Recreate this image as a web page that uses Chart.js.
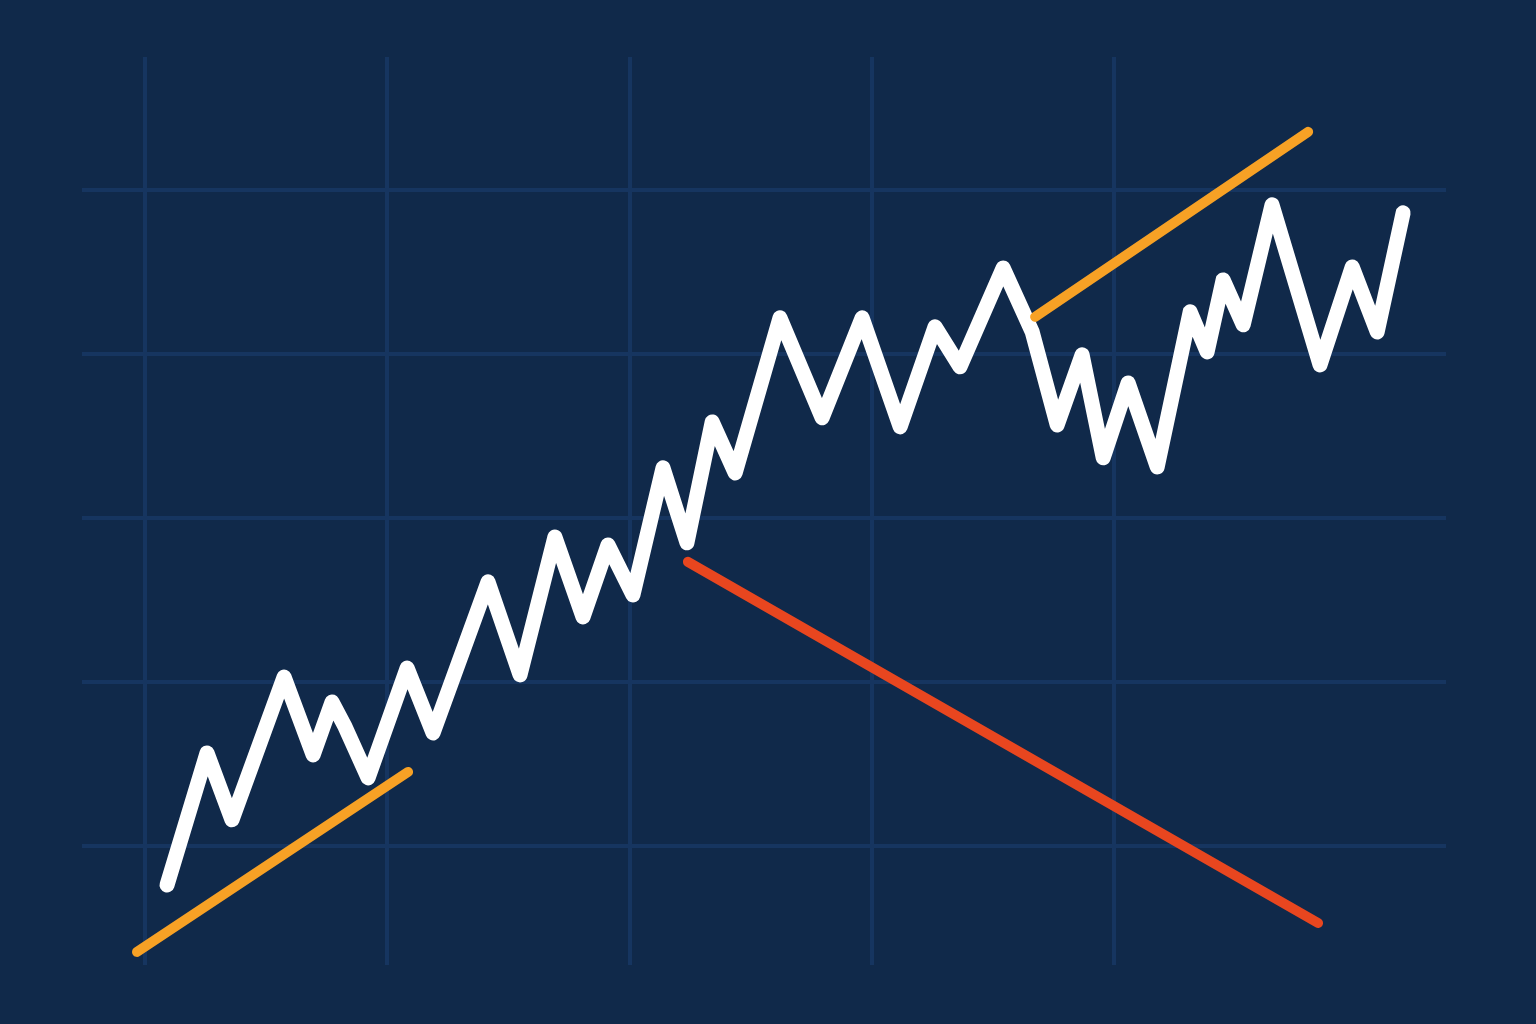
<!DOCTYPE html>
<html>
<head>
<meta charset="utf-8">
<script src="https://cdn.jsdelivr.net/npm/chart.js@4/dist/chart.umd.min.js"></script>
<style>
  html, body { margin: 0; padding: 0; background: #10294a; }
  #wrap { width: 1536px; height: 1024px; }
</style>
</head>
<body>
<div id="wrap"><canvas id="chart"></canvas></div>
<script>
// price path (x = time, y = price)
const priceX = [0.91, 2.56, 3.59, 5.74, 6.94, 7.72, 8.26, 9.21, 10.82, 11.89,
  14.16, 15.48, 16.92, 18.08, 19.11, 20.14, 21.38, 22.37, 23.41, 24.36,
  26.21, 27.95, 29.60, 31.17, 32.61, 33.64, 35.42, 36.62, 37.65, 38.68,
  39.55, 40.58, 41.78, 43.14, 43.84, 44.50, 45.33, 46.52, 48.50, 49.83,
  50.86, 51.93];
const priceY = [-2.38, 5.67, 1.59, 10.30, 5.55, 8.78, 7.26, 4.15, 10.85, 6.89,
  16.10, 10.43, 18.84, 13.96, 18.35, 15.30, 23.05, 18.48, 25.85, 22.74,
  32.20, 26.10, 32.20, 25.55, 31.65, 29.21, 35.24, 31.34, 25.67, 29.94,
  23.66, 28.23, 23.11, 32.56, 30.12, 34.51, 31.77, 39.09, 29.33, 35.30,
  31.34, 38.60];

// trend lines
const supportX = [-0.33, 10.86];
const supportY = [-6.46, 4.51];
const upperX = [36.74, 48.01];
const upperY = [32.26, 43.54];
const downX = [22.41, 48.42];
const downY = [17.32, -4.70];

// grid positions
const xTicks = [0, 10, 20, 30, 40];
const yTicks = [0, 10, 20, 30, 40];

const pts = (xs, ys) => xs.map((x, i) => ({ x: x, y: ys[i] }));

const lineStyle = (color, width) => ({
  borderColor: color,
  borderWidth: width,
  borderCapStyle: 'round',
  borderJoinStyle: 'round',
  pointRadius: 0,
  tension: 0,
  fill: false,
  clip: false,
});

new Chart(document.getElementById('chart'), {
  type: 'line',
  data: {
    datasets: [
      { data: pts(supportX, supportY), ...lineStyle('#f7a125', 10) },
      { data: pts(upperX, upperY), ...lineStyle('#f7a125', 10) },
      { data: pts(downX, downY), ...lineStyle('#e8461f', 10) },
      { data: pts(priceX, priceY), ...lineStyle('#ffffff', 15) },
    ],
  },
  options: {
    responsive: true,
    maintainAspectRatio: false,
    animation: false,
    layout: { padding: { left: 82, right: 90, top: 57, bottom: 59 } },
    plugins: { legend: { display: false }, tooltip: { enabled: false } },
    scales: {
      x: {
        type: 'linear',
        min: -2.6,
        max: 53.7,
        afterBuildTicks: (axis) => { axis.ticks = xTicks.map(v => ({ value: v })); },
        ticks: { display: false },
        border: { display: false },
        grid: { color: '#163560', lineWidth: 4, drawTicks: false },
      },
      y: {
        type: 'linear',
        min: -7.26,
        max: 48.1,
        afterBuildTicks: (axis) => { axis.ticks = yTicks.map(v => ({ value: v })); },
        ticks: { display: false },
        border: { display: false },
        grid: { color: '#163560', lineWidth: 4, drawTicks: false },
      },
    },
  },
});
</script>
</body>
</html>
